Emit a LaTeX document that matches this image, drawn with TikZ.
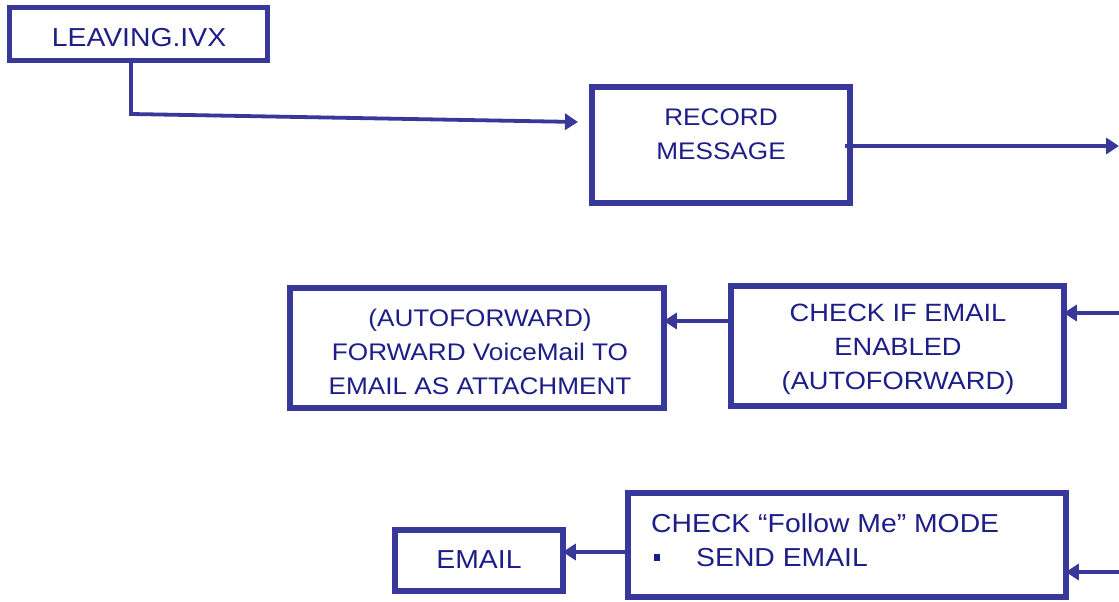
\documentclass[tikz,border=0pt]{standalone}
\usepackage{fontspec}
\setmainfont{Liberation Sans}[FakeStretch=1.09]
\usetikzlibrary{arrows.meta}
\definecolor{boxblue}{HTML}{38389A}
\definecolor{inkblue}{HTML}{1E1E88}

\begin{document}
\begin{tikzpicture}[x=1pt,y=-1pt,
  box/.style={draw=boxblue, line width=5.5pt, fill=white, inner sep=0pt},
  lbl/.style={text=inkblue, font=\fontsize{24}{34}\selectfont, align=center, inner sep=0pt},
  big/.style={font=\fontsize{26}{34}\selectfont},
  flow/.style={draw=boxblue, line width=3.8pt, line join=miter,
               -{Triangle[length=13pt,width=16pt]}},
  tobox/.style={flow, shorten >=-3pt}]
\useasboundingbox[fill=white] (0,0) rectangle (1119,602);

% boxes
\node[box, minimum width=258pt, minimum height=53pt]  (leave) at (138.5,34) {};
\node[box, minimum width=258pt, minimum height=116pt] (rec)   at (721,145) {};
\node[box, minimum width=374pt, minimum height=120pt] (fwd)   at (477,348) {};
\node[box, minimum width=333pt, minimum height=120pt] (chk)   at (897.5,346) {};
\node[box, minimum width=438pt, minimum height=104pt] (fol)   at (847,545) {};
\node[box, minimum width=168pt, minimum height=61pt]  (mail)  at (479,560.5) {};

% box texts
\node[lbl, big] (leaveT) at (139,38) {LEAVING.IVX};
\node[lbl] (recT)   at (721,134) {RECORD\\MESSAGE};
\node[lbl] (fwdT)   at (480,351.5) {(AUTOFORWARD)\\FORWARD VoiceMail TO\\EMAIL AS ATTACHMENT};
\node[lbl, font=\fontsize{25}{34}\selectfont] (chkT) at (898,349.5)
  {CHECK IF EMAIL\\ENABLED\\(AUTOFORWARD)};
\node[lbl, big, align=left, anchor=west] (folT) at (651,540)
  {CHECK “Follow Me” MODE\\\hspace*{3pt}\rule[5pt]{6pt}{7pt}\hspace{36pt}SEND EMAIL};
\node[lbl, big] (mailT)  at (479,560) {EMAIL};

% connectors
\coordinate (bend)  at (131,114);
\coordinate (recIn) at (578,122);
\coordinate (outR)  at (1119,146);
\coordinate (inChk) at (1119,313);
\coordinate (inFol) at (1119,572);

\draw[flow] (leave.south -| bend) -- (bend) -- (recIn);
\draw[flow] ([xshift=-8pt]outR -| rec.east) -- (outR);
\draw[tobox] (inChk) -- (inChk -| chk.east);
\draw[tobox] ([yshift=25pt]chk.west) -- ([yshift=25pt]chk.west -| fwd.east);
\draw[tobox] (inFol) -- (inFol -| fol.east);
\draw[tobox] ([yshift=-7pt]fol.west) -- ([yshift=-7pt]fol.west -| mail.east);
\end{tikzpicture}
\end{document}
